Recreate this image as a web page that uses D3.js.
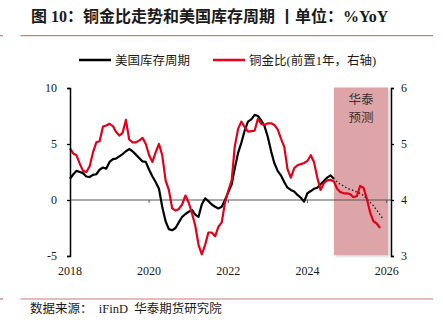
<!DOCTYPE html>
<html>
<head>
<meta charset="utf-8">
<script src="https://cdn.jsdelivr.net/npm/d3@7/dist/d3.min.js"></script>
<style>
  body { margin: 0; background: #fff; }
  svg { display: block; }
</style>
</head>
<body>
<div id="chart"></div>
<script>
// Monthly series, first point = Jan 2018
const startMonth = new Date(2018, 0, 1);

// US inventory cycle, %YoY (left axis)
const inventoryCycle = [
    1.9, 2.3, 2.6, 2.5, 2.4, 2.1, 2.05, 2.25, 2.3, 2.7, 2.9, 2.8,
    3.4, 3.65, 3.7, 3.9, 4.1, 4.35, 4.55, 4.35, 4.05, 3.75, 3.45, 3.4,
    2.7, 2.1, 1.6, 1.0, -0.6, -1.9, -2.6, -2.7, -2.5, -2.0, -1.5, -1.25,
    -1.05, -0.9, -1.3, -1.5, -0.4, 0.15, -0.1, -0.4, -0.6, -0.75, -0.6, 0.0,
    0.7, 1.4, 2.8, 4.2, 5.1, 6.2, 7.0, 7.2, 7.6, 7.5, 7.1, 6.6,
    5.6, 4.3, 3.3, 2.6, 2.2, 1.6, 1.1, 0.9, 0.75, 0.45, 0.2, -0.15,
    0.6, 0.8, 1.0, 1.1, 1.4, 1.7, 2.0, 2.2, 1.9
];

// Forecast of the inventory cycle, starts at month index 80 (Sep 2024)
const forecastStart = 80;
const inventoryForecast = [
    1.9, 1.6, 1.4, 1.25, 1.05, 0.95, 0.85, 0.7, 0.6, 0.4, 0.1, -0.2,
    -0.5, -0.9, -1.3, -1.75
];

// Copper/gold ratio, led by one year (right axis)
const copperGold = [
    4.92, 4.83, 4.8, 4.65, 4.52, 4.5, 4.6, 4.85, 5.03, 5.05, 5.31, 5.33,
    5.36, 5.32, 5.22, 5.15, 5.2, 5.43, 5.08, 5.03, 5.03, 5.06, 5.11, 5.0,
    4.8, 4.68, 4.85, 5.0, 4.8, 4.35, 4.18, 3.85, 3.81, 3.84, 3.92, 4.08,
    3.95, 3.75, 3.55, 3.2, 3.03, 3.2, 3.42, 3.42, 3.35, 3.52, 3.6, 3.95,
    4.17, 4.35, 4.95, 5.27, 5.4, 5.3, 5.22, 5.23, 5.24, 5.45, 5.36, 5.34,
    5.37, 5.37, 5.34, 5.26, 5.1, 4.95, 4.55, 4.4, 4.57, 4.62, 4.64, 4.66,
    4.7, 4.8, 4.68, 4.4, 4.18, 4.3, 4.35, 4.36, 4.33, 4.2, 4.14, 4.12,
    4.12, 4.1, 4.05, 4.07, 4.25, 4.22, 4.03, 3.78, 3.62, 3.58, 3.5
];

const xTickYears = [2018, 2020, 2022, 2024, 2026];
const leftTicks = [-5, 0, 5, 10];
const rightTicks = [3, 4, 5, 6];
const shadeRange = [new Date(2024, 8, 1), new Date(2026, 0, 15)];

const monthDate = i => d3.timeMonth.offset(startMonth, i);
const toPoints = (arr, offset = 0) => arr.map((v, i) => ({ date: monthDate(i + offset), value: v }));

const W = 443, H = 335;
const plot = { left: 70, right: 391, top: 88, bottom: 256 };

const svg = d3.select("#chart").append("svg")
    .attr("width", W)
    .attr("height", H);

const serifCjk = "'Liberation Serif', 'Times New Roman', 'Noto Sans CJK SC', serif";
const sansCjk = "'Noto Sans CJK SC', sans-serif";

const x = d3.scaleTime()
    .domain([startMonth, new Date(2026, 1, 10)])
    .range([plot.left, plot.right]);
const yLeft = d3.scaleLinear().domain([-5, 10]).range([plot.bottom, plot.top]);
const yRight = d3.scaleLinear().domain([3, 6]).range([plot.bottom, plot.top]);

// Title and rules
svg.append("text")
    .attr("x", 31)
    .attr("y", 22)
    .attr("font-family", serifCjk)
    .attr("font-weight", "bold")
    .attr("font-size", 16)
    .attr("fill", "#1a1a1a")
    .text("图 10：铜金比走势和美国库存周期 丨单位：%YoY");

const rule = (x1, x2, y) => svg.append("line")
    .attr("x1", x1).attr("x2", x2)
    .attr("y1", y).attr("y2", y)
    .attr("stroke", "#c97b7d")
    .attr("stroke-width", 1.2);
rule(0, 3, 35.7);
rule(20.5, 433, 35.7);
rule(0, 3, 299);
rule(20.5, 433, 299);

// Legend
const legend = [
    { x: 79, color: "#000", label: "美国库存周期" },
    { x: 213, color: "#e3001b", label: "铜金比(前置1年，右轴)" }
];
legend.forEach(l => {
    svg.append("line")
        .attr("x1", l.x).attr("x2", l.x + 32)
        .attr("y1", 60).attr("y2", 60)
        .attr("stroke", l.color)
        .attr("stroke-width", 2.5);
    svg.append("text")
        .attr("x", l.x + 36)
        .attr("y", 64.5)
        .attr("font-family", serifCjk)
        .attr("font-size", 12.5)
        .attr("fill", "#1a1a1a")
        .text(l.label);
});

// Forecast shading
const defs = svg.append("defs");
const shadow = defs.append("filter").attr("id", "shade-shadow")
    .attr("x", "-5%").attr("y", "-5%").attr("width", "115%").attr("height", "110%");
shadow.append("feDropShadow")
    .attr("dx", 1.5).attr("dy", 1.5)
    .attr("stdDeviation", 1.2)
    .attr("flood-color", "#000")
    .attr("flood-opacity", 0.18);

svg.append("rect")
    .attr("x", x(shadeRange[0]))
    .attr("y", plot.top - 0.5)
    .attr("width", x(shadeRange[1]) - x(shadeRange[0]))
    .attr("height", plot.bottom - plot.top - 0.5)
    .attr("fill", "#dea5a8")
    .attr("filter", "url(#shade-shadow)");

const shadeMid = (x(shadeRange[0]) + x(shadeRange[1])) / 2;
["华泰", "预测"].forEach((t, i) => {
    svg.append("text")
        .attr("x", shadeMid)
        .attr("y", 104 + i * 18)
        .attr("text-anchor", "middle")
        .attr("font-family", sansCjk)
        .attr("font-size", 12.5)
        .attr("fill", "#333")
        .text(t);
});

// Zero line with year ticks
svg.append("line")
    .attr("x1", plot.left).attr("x2", plot.right)
    .attr("y1", yLeft(0)).attr("y2", yLeft(0))
    .attr("stroke", "#555")
    .attr("stroke-width", 1.2);
xTickYears.slice(1).forEach(yr => {
    const tx = x(new Date(yr, 0, 1));
    svg.append("line")
        .attr("x1", tx).attr("x2", tx)
        .attr("y1", yLeft(0)).attr("y2", yLeft(0) + 3)
        .attr("stroke", "#555")
        .attr("stroke-width", 1);
});

// Series
const lineLeft = d3.line().x(d => x(d.date)).y(d => yLeft(d.value));
const lineRight = d3.line().x(d => x(d.date)).y(d => yRight(d.value));

svg.append("path")
    .datum(toPoints(inventoryCycle))
    .attr("d", lineLeft)
    .attr("fill", "none")
    .attr("stroke", "#000")
    .attr("stroke-width", 2.2)
    .attr("stroke-linejoin", "round");

svg.append("path")
    .datum(toPoints(inventoryForecast, forecastStart))
    .attr("d", lineLeft)
    .attr("fill", "none")
    .attr("stroke", "#222")
    .attr("stroke-width", 1.6)
    .attr("stroke-linecap", "round")
    .attr("stroke-dasharray", "0.1 3.6");

svg.append("path")
    .datum(toPoints(copperGold))
    .attr("d", lineRight)
    .attr("fill", "none")
    .attr("stroke", "#e3001b")
    .attr("stroke-width", 2.2)
    .attr("stroke-linejoin", "round");

// Axes (plain hyphen for negatives, no decimals)
const plainNum = d => String(d);
const leftAxis = svg.append("g")
    .attr("transform", `translate(${plot.left},0)`)
    .call(d3.axisLeft(yLeft).tickValues(leftTicks).tickFormat(plainNum).tickSize(3).tickPadding(10));
const rightAxis = svg.append("g")
    .attr("transform", `translate(${plot.right},0)`)
    .call(d3.axisRight(yRight).tickValues(rightTicks).tickFormat(plainNum).tickSize(3).tickPadding(7));

[leftAxis, rightAxis].forEach(g => {
    g.select(".domain").attr("stroke", "#000").attr("stroke-width", 1.5);
    g.selectAll(".tick line").attr("stroke", "#000").attr("stroke-width", 1.3);
    g.selectAll(".tick text")
        .attr("font-family", serifCjk)
        .attr("font-size", 12)
        .attr("fill", "#1a1a1a");
});

svg.append("g")
    .selectAll("text")
    .data(xTickYears)
    .join("text")
    .attr("x", d => x(new Date(d, 0, 1)))
    .attr("y", 275)
    .attr("text-anchor", "middle")
    .attr("font-family", serifCjk)
    .attr("font-size", 12)
    .attr("fill", "#1a1a1a")
    .text(d => d);

// Source note
svg.append("text")
    .attr("x", 30)
    .attr("y", 313)
    .attr("font-family", serifCjk)
    .attr("font-size", 12.5)
    .attr("fill", "#1a1a1a")
    .attr("xml:space", "preserve")
    .text("数据来源：  iFinD  华泰期货研究院");
</script>
</body>
</html>
